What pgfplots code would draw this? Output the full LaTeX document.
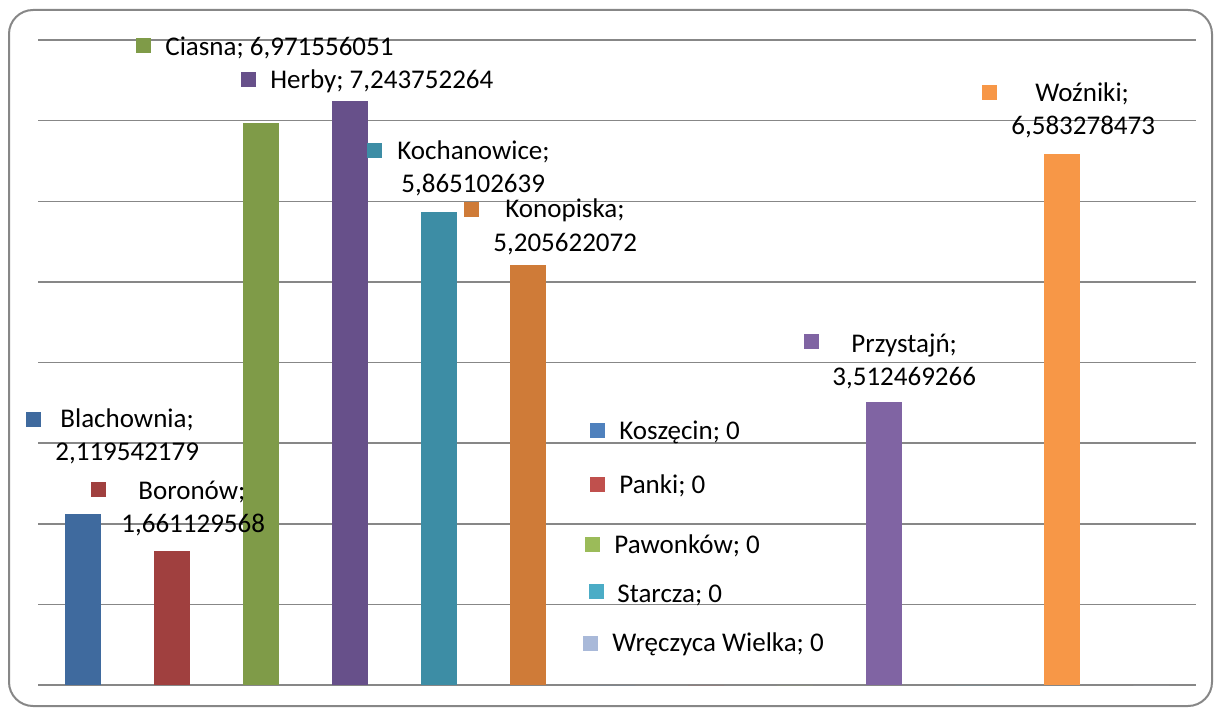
\documentclass[border=0pt]{standalone}
\usepackage{pgfplots}
\pgfplotsset{compat=1.18}
\usepackage{fontspec}
\setmainfont{Carlito}

\definecolor{gridgray}{HTML}{878787}
\definecolor{cBla}{HTML}{3F6A9E}
\definecolor{cBor}{HTML}{A0403F}
\definecolor{cCia}{HTML}{7F9B48}
\definecolor{cHer}{HTML}{67508A}
\definecolor{cKoc}{HTML}{3D8DA5}
\definecolor{cKon}{HTML}{CF7B38}
\definecolor{cKos}{HTML}{4F81BD}
\definecolor{cPan}{HTML}{C0504D}
\definecolor{cPaw}{HTML}{9BBB59}
\definecolor{cPrz}{HTML}{8064A3}
\definecolor{cSta}{HTML}{4BACC6}
\definecolor{cWoz}{HTML}{F79747}
\definecolor{cWre}{HTML}{A9B9D9}

% label helpers, coordinates in pixels of the reference
\newcommand{\key}[3]{\fill[#3] (#1,#2) rectangle ++(15,15);}
\newcommand{\txt}[3]{\node[anchor=base west, inner sep=0pt] at (#1,#2) {#3};}

\begin{document}
\begin{tikzpicture}
\useasboundingbox (0,0) rectangle (607pt,354pt);
\begin{axis}[
    at={(19pt,11.5pt)}, anchor=south west,
    scale only axis,
    width=579pt, height=322.5pt,
    xmin=-0.5, xmax=12.5,
    ymin=0, ymax=8,
    ytick={0,...,8}, yticklabels={},
    xtick=\empty,
    ymajorgrids=true,
    grid style={draw=gridgray, line width=0.75pt},
    axis line style={draw=none},
    major tick length=0pt,
    ybar, bar width=18pt,
    clip=false,
]
\addplot[fill=cBla, draw=none, bar shift=0pt] coordinates {(0,2.119542179)};
\addplot[fill=cBor, draw=none, bar shift=0pt] coordinates {(1,1.661129568)};
\addplot[fill=cCia, draw=none, bar shift=0pt] coordinates {(2,6.971556051)};
\addplot[fill=cHer, draw=none, bar shift=0pt] coordinates {(3,7.243752264)};
\addplot[fill=cKoc, draw=none, bar shift=0pt] coordinates {(4,5.865102639)};
\addplot[fill=cKon, draw=none, bar shift=0pt] coordinates {(5,5.205622072)};
\addplot[fill=cKos, draw=none, bar shift=0pt] coordinates {(6,0)};
\addplot[fill=cPan, draw=none, bar shift=0pt] coordinates {(7,0)};
\addplot[fill=cPaw, draw=none, bar shift=0pt] coordinates {(8,0)};
\addplot[fill=cPrz, draw=none, bar shift=0pt] coordinates {(9,3.512469266)};
\addplot[fill=cSta, draw=none, bar shift=0pt] coordinates {(10,0)};
\addplot[fill=cWoz, draw=none, bar shift=0pt] coordinates {(11,6.583278473)};
\addplot[fill=cWre, draw=none, bar shift=0pt] coordinates {(12,0)};
\end{axis}

% chart frame
\draw[gridgray, line width=1pt, rounded corners=12pt] (4.5pt,1pt) rectangle (606pt,349pt);

% data labels
\begin{scope}[yshift=354pt, x=0.5pt, y=-0.5pt, font=\fontsize{13.5}{16}\selectfont]
\key{26}{412}{cBla}
\txt{60}{427}{Blachownia;}
\txt{55}{460}{2,119542179}
\key{91}{482}{cBor}
\txt{138}{499}{Boronów;}
\txt{121}{532}{1,661129568}
\key{136}{38}{cCia}
\txt{165}{56}{Ciasna; 6,971556051}
\key{241}{72}{cHer}
\txt{270}{89}{Herby; 7,243752264}
\key{367}{143}{cKoc}
\txt{397}{160}{Kochanowice;}
\txt{401}{193}{5,865102639}
\key{464}{202}{cKon}
\txt{505}{218}{Konopiska;}
\txt{493}{251}{5,205622072}
\key{590}{423}{cKos}
\txt{619}{439}{Koszęcin; 0}
\key{590}{477}{cPan}
\txt{619}{493}{Panki; 0}
\key{585}{537}{cPaw}
\txt{614}{553}{Pawonków; 0}
\key{589}{584}{cSta}
\txt{617}{602}{Starcza; 0}
\key{583}{636}{cWre}
\txt{612}{651}{Wręczyca Wielka; 0}
\key{804}{334}{cPrz}
\txt{851}{352}{Przystajń;}
\txt{832}{385}{3,512469266}
\key{982}{85}{cWoz}
\txt{1035}{102}{Woźniki;}
\txt{1011}{135}{6,583278473}
\end{scope}
\end{tikzpicture}
\end{document}
